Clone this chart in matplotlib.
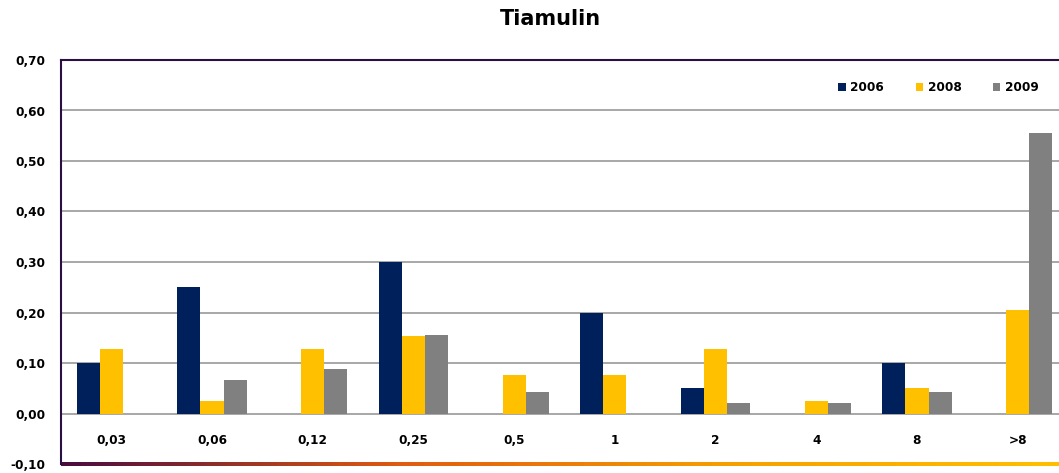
import matplotlib.pyplot as plt
import numpy as np
from matplotlib.collections import LineCollection
from matplotlib.colors import LinearSegmentedColormap

plt.rcParams['font.family'] = ['DejaVu Sans']

CATEGORIES = ['0,03', '0,06', '0,12', '0,25', '0,5', '1', '2', '4', '8', '>8']
YEARS = ['2006', '2008', '2009']
V2006 = [0.10, 0.25, 0.0, 0.30, 0.0, 0.20, 0.05, 0.0, 0.10, 0.0]
V2008 = [0.128, 0.025, 0.128, 0.153, 0.077, 0.077, 0.128, 0.025, 0.051, 0.204]
V2009 = [0.0, 0.067, 0.088, 0.155, 0.043, 0.0, 0.021, 0.021, 0.043, 0.555]
COLORS = ['#00205b', '#ffc000', '#808080']

FS = 8.7

fig = plt.figure(figsize=(10.59, 4.73), dpi=100)
ax = fig.add_axes([61 / 1059, 9 / 473, 1007 / 1059, 404 / 473])

x = np.arange(len(CATEGORIES))
w = 0.23
for k, (vals, lab, col) in enumerate(zip([V2006, V2008, V2009], YEARS, COLORS)):
    ax.bar(x + (k - 1) * w, vals, width=w, color=col, label=lab, zorder=3)

ax.set_xlim(-0.5, len(CATEGORIES) - 0.5)
ax.set_ylim(-0.10, 0.70)
ticks = np.arange(-0.10, 0.71, 0.10)
ax.set_yticks(ticks)
ax.set_yticklabels([f'{t:.2f}'.replace('.', ',').replace('-0,00', '0,00') for t in ticks],
                   fontsize=FS, fontweight='bold')
ax.tick_params(axis='y', length=0, pad=11.5)
ax.set_xticks([])
for t in ticks[1:-1]:
    ax.axhline(t, color='#a0a0a0', lw=1.3, zorder=1)

for i, c in enumerate(CATEGORIES):
    ax.text(i, -0.054, c, ha='center', va='center', fontsize=FS, fontweight='bold')

for s in ['right', 'bottom']:
    ax.spines[s].set_visible(False)
ax.spines['top'].set_color('#2a1040')
ax.spines['left'].set_color('#2a1040')
ax.spines['top'].set_linewidth(1.5)
ax.spines['left'].set_linewidth(1.5)

# gradient bottom border
n = 200
xs = np.linspace(0, 1, n + 1)
segs = [[(xs[i], 0), (xs[i + 1], 0)] for i in range(n)]
cmap = LinearSegmentedColormap.from_list('b', ['#4a0a40', '#e05a10', '#f5a000', '#ffc000'])
lc = LineCollection(segs, colors=cmap(xs[:-1]), linewidths=1.6, transform=ax.transAxes,
                    clip_on=False, capstyle='butt', antialiaseds=False)
ax.add_collection(lc)

ax.legend(loc='upper right', bbox_to_anchor=(0.971, 0.948), ncol=3, frameon=False,
          prop={'size': FS, 'weight': 'bold'}, handlelength=0.6, handleheight=0.6,
          handletextpad=0.4, columnspacing=2.6, borderpad=0, borderaxespad=0)

fig.text(550 / 1059, 1 - 19 / 473, 'Tiamulin', ha='center', va='center', fontsize=15, fontweight='bold')

fig.savefig('out.png', dpi=100)
